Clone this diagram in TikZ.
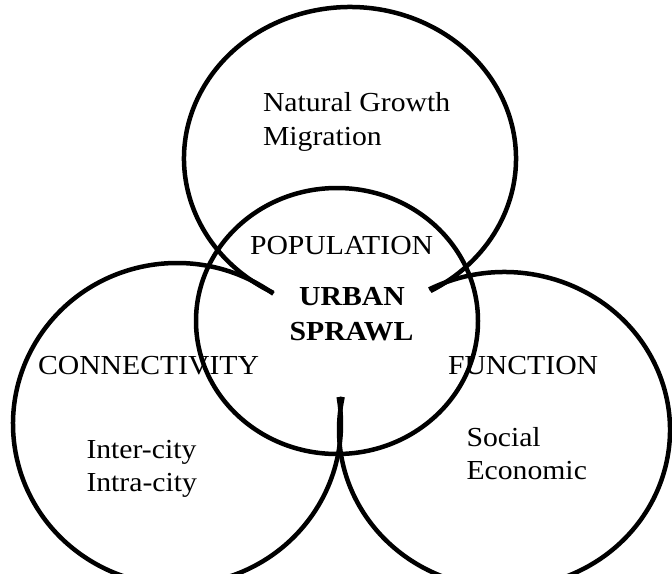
\documentclass[tikz,border=0pt]{standalone}
\usepackage{fontspec}
\setmainfont{Liberation Serif}[FakeStretch=1.08]
\usetikzlibrary{calc}
\begin{document}
\begin{tikzpicture}[x=1pt,y=-1pt,
  ring/.style={line width=4.5pt, line cap=butt},
  lbl/.style={inner sep=0pt, outer sep=0pt, font=\fontsize{27.5}{33}\selectfont, anchor=base west},
  core/.style={inner sep=0pt, outer sep=0pt, font=\fontsize{27.5}{33}\selectfont\bfseries, anchor=base}]
\useasboundingbox (0,0) rectangle (672,573);
\fill[white] (0,0) rectangle (672,573);
\coordinate (Tc) at (350,158.5);
\coordinate (Lc) at (177,424);
\coordinate (Rc) at (504.5,430);
\coordinate (Mc) at (337,321);
% top circle (population)
\draw[ring] ($(Tc)+(117.6:166 and 151.5)$) arc[start angle=117.6, end angle=421, x radius=166, y radius=151.5];
% left circle (connectivity)
\draw[ring] ($(Lc)+(-54:164 and 161)$) arc[start angle=-54, end angle=-369.65, x radius=164, y radius=161];
% right circle (function)
\draw[ring] ($(Rc)+(242.9:165.5 and 158)$) arc[start angle=242.9, end angle=552.06, x radius=165.5, y radius=158];
% centre circle
\draw[ring] (Mc) ellipse[x radius=141, y radius=133];
% texts
\node[lbl] (ng) at (263,111.5) {Natural Growth};
\node[lbl] (mg) at (263,145.5) {Migration};
\node[lbl] (pop) at (250,254.5) {POPULATION};
\node[core] (ur) at (352,305.5) {URBAN};
\node[core] (sp) at (351.5,340) {SPRAWL};
\node[lbl] (con) at (38,374.6) {CONNECTIVITY};
\node[lbl] (fun) at (448,374.6) {FUNCTION};
\node[lbl] (ic1) at (86.5,458.7) {Inter-city};
\node[lbl] (ic2) at (86.5,491.6) {Intra-city};
\node[lbl] (soc) at (466.5,446) {Social};
\node[lbl] (eco) at (466.5,479.5) {Economic};
\end{tikzpicture}
\end{document}
